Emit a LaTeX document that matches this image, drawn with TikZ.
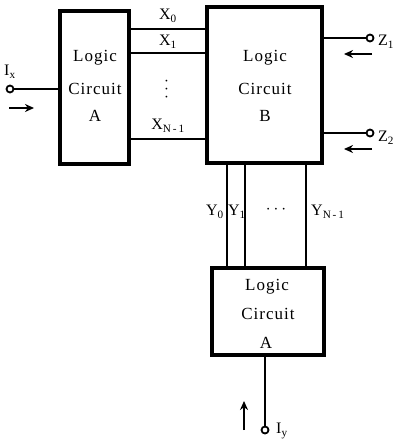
\documentclass[tikz,border=0pt]{standalone}
\usepackage{fontspec}
\setmainfont{Liberation Serif}[LetterSpace=6]
\usetikzlibrary{arrows.meta}
\begin{document}
\begin{tikzpicture}[x=1pt,y=-1pt,
  blk/.style={draw,line width=3.4pt},
  wire/.style={line width=2.1pt},
  term/.style={circle,draw,line width=1.8pt,inner sep=0pt,minimum size=7pt,fill=white},
  txt/.style={font=\fontsize{17}{19}\selectfont,inner sep=0pt},
  lbl/.style={font=\fontsize{16}{18}\selectfont,inner sep=0pt},
  flow/.style={line width=2.6pt,-{Stealth[length=9pt,width=8pt]}}]
\useasboundingbox (0,0) rectangle (399,441);
% blocks
\draw[blk] (60,11) rectangle (129,164);
\draw[blk] (207,7) rectangle (322,163);
\draw[blk] (212,268) rectangle (324,355);
\coordinate (Aw) at (60,89);
\node[txt] (la1) at (95,58) {Logic};
\node[txt] (la2) at (95,89) {Circuit};
\node[txt] (la3) at (95,116) {A};
\node[txt] (lb1) at (265,58) {Logic};
\node[txt] (lb2) at (265,89) {Circuit};
\node[txt] (lb3) at (265,116) {B};
\node[txt] (lc1) at (267,287) {Logic};
\node[txt] (lc2) at (268,314) {Circuit};
\node[txt] (lc3) at (266,343) {A};
% X lines
\draw[wire] (129,29) -- (207,29);
\draw[wire] (129,53) -- (207,53);
\draw[wire] (129,139) -- (207,139);
\node[lbl] (x0) at (168,16) {X\textsubscript{0}};
\node[lbl] (x1) at (168,42) {X\textsubscript{1}};
\node[lbl,rotate=90] (xd) at (167,89) {$\cdots$};
\node[lbl] (xn) at (168,126) {X\textsubscript{N\,-\,1}};
% Ix
\node[term] (ix) at (10,89) {};
\draw[wire] (ix) -- (Aw);
\node[lbl,anchor=west] (ixl) at (4,72) {I\textsubscript{x}};
\coordinate (ia1) at (9,108);
\coordinate (ia2) at (34,108);
\draw[flow] (ia1) -- (ia2);
% Z
\node[term] (z1) at (370,38) {};
\node[term] (z2) at (370,133) {};
\draw[wire] (322,38) -- (z1);
\draw[wire] (322,133) -- (z2);
\node[lbl,anchor=west] (z1l) at (378,42) {Z\textsubscript{1}};
\node[lbl,anchor=west] (z2l) at (378,138) {Z\textsubscript{2}};
\coordinate (za1) at (372,54);
\coordinate (za2) at (344,54);
\draw[flow] (za1) -- (za2);
\coordinate (zb1) at (372,149);
\coordinate (zb2) at (344,149);
\draw[flow] (zb1) -- (zb2);
% Y lines
\draw[wire] (227,163) -- (227,268);
\draw[wire] (245,163) -- (245,268);
\draw[wire] (306,163) -- (306,268);
\node[lbl] (y0) at (215,212) {Y\textsubscript{0}};
\node[lbl] (y1) at (237,212) {Y\textsubscript{1}};
\node[lbl] (yd) at (276,210) {$\cdots$};
\node[lbl,anchor=west] (yn) at (311,212) {Y\textsubscript{N\,-\,1}};
% Iy
\node[term] (iy) at (265,430) {};
\draw[wire] (265,355) -- (iy);
\node[lbl,anchor=west] (iyl) at (276,431) {I\textsubscript{y}};
\coordinate (ya1) at (244,430);
\coordinate (ya2) at (244,401);
\draw[flow] (ya1) -- (ya2);
\end{tikzpicture}
\end{document}
